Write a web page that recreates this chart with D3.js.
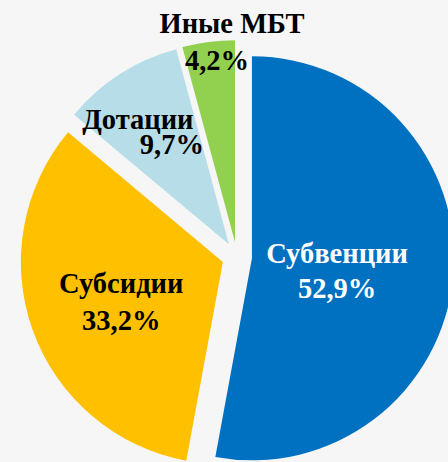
<!DOCTYPE html>
<html>
<head>
<meta charset="utf-8">
<script src="https://cdn.jsdelivr.net/npm/d3@7"></script>
<style>
  html, body { margin: 0; padding: 0; background: #f6f6f6; }
  svg { display: block; }
</style>
</head>
<body>
<div id="chart"></div>
<script>
// data
const categories = ["Субвенции", "Субсидии", "Дотации", "Иные МБТ"];
const shares = [52.9, 33.2, 9.7, 4.2];
const valueLabels = ["52,9%", "33,2%", "9,7%", "4,2%"];
const colors = ["#0070C0", "#FFC000", "#B7DEE8", "#92D050"];
const textColors = ["#ffffff", "#000000", "#000000", "#000000"];

// label placement: angle shift from slice bisector (deg), distance from apex,
// line spacing and per-line horizontal nudges
const labelPlacement = {
  "Субвенции": { shift: 9.4, dist: 88, ls: 35, dx: [0, 0] },
  "Субсидии": { shift: -6.1, dist: 113, ls: 37, dx: [0, 0] },
  "Дотации": { shift: -3.1, dist: 127, ls: 25, dx: [-17, 17] },
  "Иные МБТ": { shift: 4.4, dist: 191, ls: 37, dx: [7.5, -7.5] },
};

const width = 448,
  height = 462;
const cx = 237,
  cy = 257,
  radius = 202,
  explode = 15;

const svg = d3
  .select("#chart")
  .append("svg")
  .attr("width", width)
  .attr("height", height);

const data = categories.map((c, i) => ({
  name: c,
  value: shares[i],
  label: valueLabels[i],
  color: colors[i],
  textColor: textColors[i],
}));

const pie = d3.pie().sort(null).value((d) => d.value);
const arc = d3.arc().innerRadius(0).outerRadius(radius);
const arcs = pie(data);

// polar helper, angle clockwise from 12 o'clock
const polar = (a, r) => [Math.sin(a) * r, -Math.cos(a) * r];

const g = svg.append("g").attr("transform", `translate(${cx},${cy})`);

const slices = g
  .selectAll("g.slice")
  .data(arcs)
  .join("g")
  .attr("class", "slice")
  .attr("transform", (d) => {
    const mid = (d.startAngle + d.endAngle) / 2;
    const [ox, oy] = polar(mid, explode);
    return `translate(${ox},${oy})`;
  });

slices
  .append("path")
  .attr("d", arc)
  .attr("fill", (d) => d.data.color);

// labels
slices.each(function (d) {
  const p = labelPlacement[d.data.name];
  const mid = (d.startAngle + d.endAngle) / 2 + (p.shift * Math.PI) / 180;
  const [lx, ly] = polar(mid, p.dist);
  const t = d3
    .select(this)
    .append("text")
    .attr("text-anchor", "middle")
    .attr("fill", d.data.textColor)
    .style("font-family", "'Liberation Serif', 'Times New Roman', serif")
    .style("font-weight", "bold")
    .style("font-size", "28.5px");
  t.append("tspan")
    .attr("x", lx + p.dx[0])
    .attr("y", ly - p.ls / 2)
    .text(d.data.name);
  t.append("tspan")
    .attr("x", lx + p.dx[1])
    .attr("y", ly + p.ls / 2)
    .text(d.data.label);
});
</script>
</body>
</html>
